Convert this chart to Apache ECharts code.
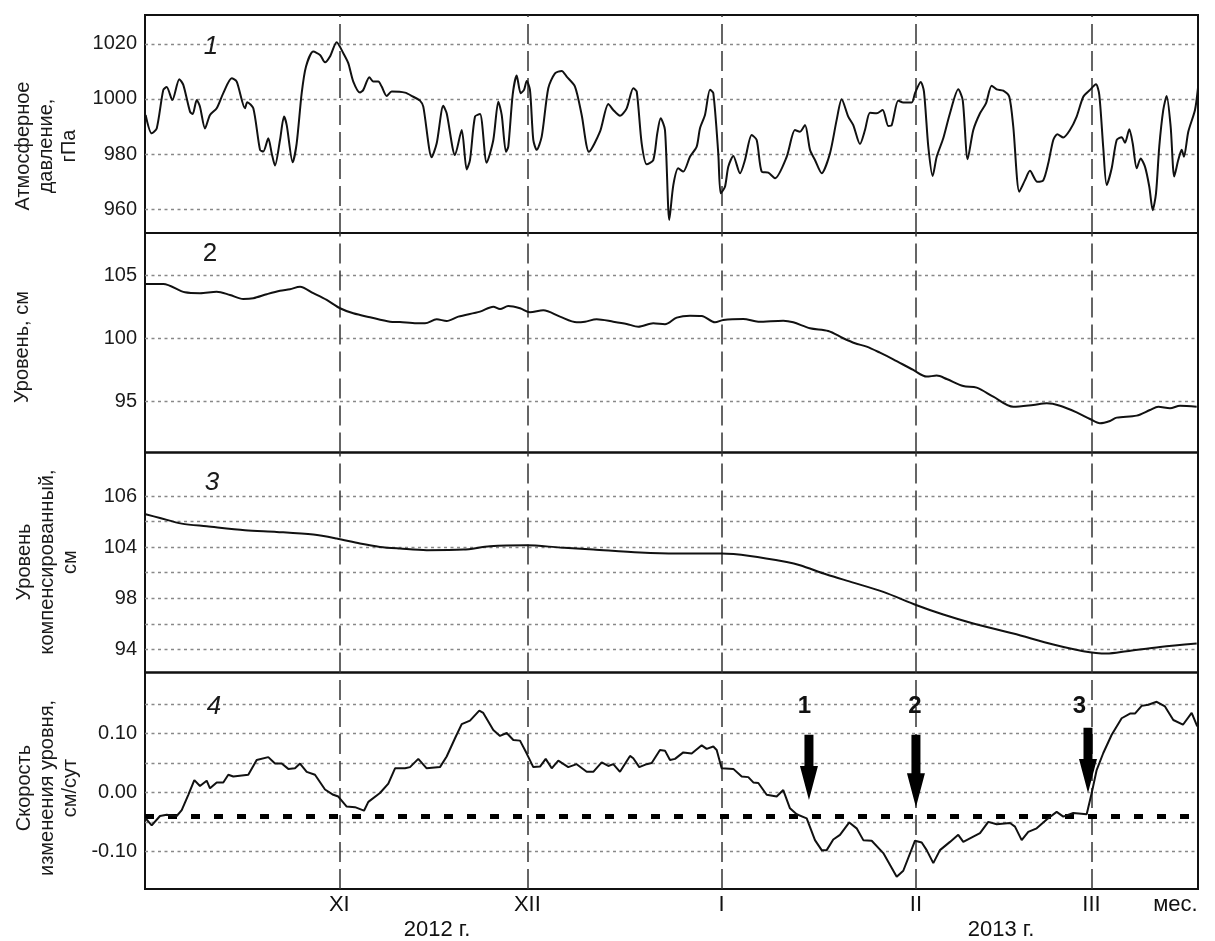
<!DOCTYPE html>
<html><head><meta charset="utf-8">
<script src="https://cdn.jsdelivr.net/npm/echarts@6/dist/echarts.min.js"></script>
<style>html,body{margin:0;padding:0;background:#fff}#c{width:1215px;height:941px}</style>
</head><body><div id="c"></div>
<script>
// x = days since 1 Oct 2012
const monthDays = [31, 61, 92, 123, 151];
const monthLabels = ['XI', 'XII', 'I', 'II', 'III'];
const unitDay = 164.4, unitLabel = 'мес.';
const yearLabels = ['2012 г.', '2013 г.'];

const pressureTicks = [960, 980, 1000, 1020];
const levelTicks = [95, 100, 105];
const compGrid = [94, 96, 98, 100, 102, 104, 106];
const compLabelPos = [94, 98, 102, 106];
const compLabelText = ['94', '98', '104', '106'];
const speedGrid = [-0.10, -0.05, 0, 0.05, 0.10, 0.15];
const speedLabelPos = [-0.10, 0, 0.10];
const threshold = -0.039;

const pressure = [[0.1,994.2],[1.07,987.5],[1.87,989.3],[2.92,1003.3],[3.46,1004.3],[4.36,999.6],[5.47,1007.2],[6.11,1005.1],[7.18,995.4],[7.61,994.5],[8.25,999.6],[8.77,997.2],[9.57,989.3],[10.37,994.2],[11.44,996.6],[12.49,1002.1],[13.83,1007.5],[14.63,1006.3],[15.95,996.6],[16.32,998.8],[17.28,996.6],[18.35,981.5],[18.87,980.9],[19.67,985.7],[20.21,980.3],[20.74,975.8],[21.54,985.1],[22.18,993.6],[22.61,990.5],[23.56,977],[24.2,983.9],[25,1002.1],[25.69,1011.8],[26.85,1017.2],[27.92,1016],[28.72,1013.3],[29.51,1015.4],[30.58,1020.6],[31.64,1016.6],[32.43,1013],[33.23,1006.3],[34.3,1002.3],[34.83,1003.3],[35.79,1007.9],[36.42,1006.3],[37.22,1006.3],[37.76,1004.5],[38.56,1001.1],[39.36,1002.7],[41.48,1002.3],[42.8,1000.8],[43.87,999.4],[44.4,997.2],[45.74,978.8],[46.54,983.9],[47.59,997.5],[48.13,994.8],[49.46,979.6],[50.53,988.7],[51.32,974.4],[51.85,977.8],[52.65,993.6],[53.45,994.5],[54.51,976.8],[55.57,985.1],[56.37,999],[56.91,994.2],[57.59,980.8],[57.96,982.7],[58.66,1001.5],[59.3,1008.5],[59.94,1002.1],[60.47,1003.3],[60.9,1006.5],[61.42,1003.3],[61.95,985.1],[62.49,981.5],[63.29,986.3],[64.34,1003.9],[65.41,1009.3],[66.48,1010.2],[67.28,1008.1],[68.6,1004.5],[69.67,994.2],[70.84,980.8],[72.59,988.1],[73.92,998.2],[74.71,996],[75.78,993.9],[76.85,996.6],[77.9,1003.9],[78.45,1002.7],[79.24,983.9],[80.04,976.3],[81.09,977.8],[81.73,987.5],[82.27,993],[82.96,988.7],[83.65,956],[84.29,968.7],[85.08,974.8],[85.88,973.6],[86.95,979],[88.02,982.7],[88.54,989.3],[89.34,994.2],[90.14,1003.3],[90.67,1002.1],[91.46,980.3],[91.85,965.7],[92.53,968.1],[93.06,975.4],[93.86,979.3],[94.93,973],[95.72,977.8],[96.79,986.9],[97.59,985.1],[98.39,973.6],[99.44,973.2],[100.51,971.2],[102.38,979],[103.7,988.7],[104.5,988.1],[105.3,990.5],[106.1,981.5],[106.89,977.8],[107.96,973],[109.29,980.3],[110.35,992.4],[111.15,999.9],[112.2,993.6],[113,990.5],[114.07,983.6],[114.87,988.7],[115.67,995],[116.73,994.8],[117.69,996],[118.59,990.2],[119.13,990.5],[120.18,999.4],[120.98,998.7],[122.32,998.7],[122.85,1002.1],[123.76,1006.2],[124.28,1002.7],[124.97,982.7],[125.67,972],[126.31,979],[127.36,985.7],[128.43,994.8],[129.75,1003.5],[130.46,999.6],[131.25,978.1],[132.15,988.7],[133.22,994.8],[134.17,998.4],[135.08,1004.8],[135.88,1003.5],[136.93,1003],[137.89,1000.8],[138.53,989.9],[139.49,966.3],[140.4,970.5],[141.19,973.9],[142.36,969.9],[143.32,970.5],[144.11,976.6],[144.91,985.1],[145.55,987.2],[146.51,986],[147.57,988.7],[148.64,993.6],[149.7,1000.8],[150.77,1003.3],[151.72,1005.3],[152.25,1001.5],[152.89,982.1],[153.43,968.7],[154.23,974.8],[155.03,985.1],[155.82,986.1],[156.35,984.1],[157.04,989],[157.58,983.9],[158.22,974.8],[158.85,978.4],[159.54,975.4],[160.23,968.1],[160.77,959.6],[161.3,965.7],[161.82,982.7],[162.46,996],[163,1001.1],[163.64,989.9],[164.21,971.8],[164.85,977.8],[165.4,981.5],[165.76,979],[166.45,988.1],[167.52,996],[168,1004]];

const level = [[0.1,104.34],[2.92,104.34],[6.38,103.67],[8.77,103.6],[11.44,103.72],[13.56,103.46],[15.68,103.14],[17.28,103.2],[19.42,103.52],[21.54,103.8],[23.13,103.92],[24.73,104.12],[26.85,103.6],[28.99,103.06],[31.11,102.4],[33.23,102],[35.9,101.68],[39.09,101.33],[40.68,101.3],[43.35,101.2],[44.67,101.2],[46.54,101.52],[48.13,101.39],[49.98,101.73],[53.45,102.13],[55.57,102.53],[56.64,102.34],[57.96,102.58],[59.83,102.4],[61.42,102.08],[63.55,102.24],[66.21,101.73],[68.87,101.28],[70.2,101.33],[72.06,101.52],[74.71,101.33],[76.85,101.15],[78.7,100.93],[81.09,101.2],[82.96,101.12],[84.83,101.65],[86.95,101.81],[88.82,101.79],[90.94,101.28],[92.26,101.47],[95.45,101.55],[97.85,101.33],[101.83,101.41],[103.43,101.28],[106.1,100.81],[109.01,100.59],[111.4,100.01],[113.27,99.61],[115.14,99.34],[117.26,98.86],[119.38,98.33],[122.57,97.48],[124.71,96.95],[126.31,97.03],[127.9,96.76],[130.55,96.2],[132.69,96.07],[135.34,95.35],[138.53,94.55],[141.72,94.69],[143.86,94.82],[145.98,94.63],[148.64,94.1],[150.77,93.57],[152.36,93.23],[153.96,93.41],[155.03,93.68],[158.22,93.84],[160.34,94.29],[161.67,94.55],[163.53,94.43],[165.13,94.63],[167.79,94.55]];

const compLevel = [[0.1,104.57],[2.39,104.28],[5.86,103.84],[9.84,103.63],[15.95,103.32],[21.01,103.19],[26.85,102.98],[30.58,102.67],[34.3,102.28],[37.49,102.02],[40.68,101.89],[44.94,101.76],[50.78,101.81],[55.04,102.07],[60.9,102.15],[66.21,101.97],[71.52,101.81],[78.97,101.58],[84.83,101.5],[92,101.5],[96.52,101.31],[102.38,100.84],[104.5,100.59],[108.76,99.86],[113,99.23],[117.79,98.5],[123.12,97.46],[127.36,96.73],[132.15,96.03],[138.53,95.25],[144.91,94.39],[149.7,93.87],[153.43,93.69],[156.62,93.87],[161.94,94.2],[167.79,94.47]];

const speed = [[0.1,-0.044],[1.07,-0.056],[2.39,-0.040],[3.46,-0.038],[5.06,-0.040],[5.86,-0.030],[6.91,-0.004],[7.87,0.021],[8.77,0.011],[9.84,0.020],[10.37,0.007],[11.44,0.017],[12.49,0.017],[13.29,0.030],[14.09,0.027],[16.48,0.030],[17.82,0.055],[19.67,0.060],[20.74,0.049],[21.81,0.049],[22.86,0.040],[23.93,0.041],[24.73,0.049],[25.8,0.035],[27.12,0.030],[28.72,0.005],[30.04,-0.004],[30.84,-0.007],[32.18,-0.024],[33.5,-0.025],[34.94,-0.031],[35.63,-0.016],[37.49,-0.001],[38.82,0.015],[39.89,0.041],[41.48,0.041],[42.28,0.043],[43.6,0.057],[44.94,0.041],[47.06,0.043],[48.13,0.061],[49.46,0.092],[50.53,0.116],[51.85,0.122],[53.33,0.139],[53.97,0.135],[55.57,0.106],[56.64,0.096],[57.71,0.101],[58.76,0.089],[59.83,0.088],[60.9,0.066],[61.95,0.043],[63.02,0.044],[63.93,0.057],[64.89,0.041],[65.94,0.054],[67.53,0.043],[68.87,0.048],[70.47,0.035],[71.52,0.035],[72.86,0.051],[73.92,0.045],[74.71,0.048],[75.78,0.035],[77.38,0.062],[77.9,0.058],[78.86,0.043],[80.04,0.048],[80.84,0.050],[82.16,0.072],[82.96,0.071],[83.76,0.055],[84.56,0.057],[85.88,0.068],[87.22,0.066],[88.82,0.080],[89.61,0.074],[90.67,0.078],[91.21,0.072],[92,0.041],[93.86,0.040],[95.2,0.027],[96.25,0.026],[97.05,0.017],[97.85,0.016],[99.19,-0.004],[100.78,-0.007],[101.83,0.004],[102.9,-0.027],[103.97,-0.037],[105.57,-0.044],[106.89,-0.081],[107.96,-0.098],[108.76,-0.098],[109.81,-0.080],[110.88,-0.072],[112.36,-0.051],[113.54,-0.061],[114.6,-0.081],[115.94,-0.082],[117.79,-0.103],[119.93,-0.143],[120.98,-0.133],[122.85,-0.082],[123.92,-0.085],[124.71,-0.098],[125.77,-0.120],[126.83,-0.098],[128.43,-0.084],[129.75,-0.072],[130.55,-0.084],[132.15,-0.075],[133.22,-0.069],[134.54,-0.050],[135.88,-0.054],[138,-0.052],[138.8,-0.058],[139.87,-0.081],[140.92,-0.067],[142.26,-0.061],[143.86,-0.046],[145.45,-0.033],[146.51,-0.041],[148.1,-0.035],[150.24,-0.037],[151.04,-0.001],[151.83,0.038],[152.89,0.067],[154.23,0.098],[155.82,0.126],[157.15,0.134],[157.94,0.134],[159.01,0.147],[160.07,0.149],[161.41,0.154],[162.73,0.146],[164.06,0.123],[165.6,0.115],[166.99,0.135],[167.88,0.112]];

const arrowDays = [105.93, 123.0, 150.45];
const arrowTop = [0.098, 0.098, 0.110];
const arrowTip = [-0.013, -0.025, -0.001];
const arrowLabelDays = [105.2, 122.85, 149.1];
const arrowLabelVal = 0.147;
const arrowLabels = ['1', '2', '3'];

const panelNumbers = ['1', '2', '3', '4'];
const axisTitles = ['Атмосферное\nдавление,\nгПа', 'Уровень, см', 'Уровень\nкомпенсированный,\nсм', 'Скорость\nизменения уровня,\nсм/сут'];

const FONT = '"Liberation Sans", Arial, sans-serif';
const chart = echarts.init(document.getElementById('c'));

const gridBoxes = [
  {top: 15, height: 218},
  {top: 233, height: 219.5},
  {top: 452.5, height: 220},
  {top: 672.5, height: 216.5}
];
const grids = gridBoxes.map(g => ({left: 145, width: 1053, top: g.top, height: g.height, show: true, borderColor: '#111', borderWidth: 2, backgroundColor: 'rgba(0,0,0,0)'}));

const xLabelMap = {};
monthDays.forEach((d, i) => xLabelMap[d] = monthLabels[i]);
xLabelMap[unitDay] = unitLabel;

const xAxes = [0, 1, 2, 3].map(i => ({
  gridIndex: i, type: 'value', min: 0, max: 168,
  axisLine: {show: false}, axisTick: {show: false}, splitLine: {show: false},
  axisLabel: i === 3 ? {show: true, customValues: monthDays.concat([unitDay]), formatter: v => xLabelMap[v] || '', fontSize: 22, fontFamily: FONT, color: '#111', margin: 5, hideOverlap: false} : {show: false}
}));

const splitStyle = {show: true, lineStyle: {color: '#888', type: [3, 3.5], width: 1.4}};
const ylab = (extra) => Object.assign({fontSize: 20, fontFamily: FONT, color: '#1a1a1a', margin: 8, showMinLabel: true, showMaxLabel: true}, extra);

const compMap = {};
compLabelPos.forEach((v, i) => compMap[v] = compLabelText[i]);

const yAxes = [
  {gridIndex: 0, type: 'value', min: 951.3, max: 1030.5, axisLine: {show: false},
   axisTick: {show: false, customValues: pressureTicks}, splitLine: splitStyle,
   axisLabel: ylab({customValues: pressureTicks, formatter: v => String(v)})},
  {gridIndex: 1, type: 'value', min: 90.9, max: 108.4, axisLine: {show: false},
   axisTick: {show: false, customValues: levelTicks}, splitLine: splitStyle,
   axisLabel: ylab({customValues: levelTicks, formatter: v => String(v)})},
  {gridIndex: 2, type: 'value', min: 92.2, max: 109.4, axisLine: {show: false},
   axisTick: {show: false, customValues: compGrid}, splitLine: splitStyle,
   axisLabel: ylab({customValues: compLabelPos, formatter: v => compMap[v] || ''})},
  {gridIndex: 3, type: 'value', min: -0.164, max: 0.2037, axisLine: {show: false},
   axisTick: {show: false, customValues: speedGrid}, splitLine: splitStyle,
   axisLabel: ylab({customValues: speedLabelPos, formatter: v => v.toFixed(2)})}
];

const monthLine = monthDays.map(d => ({xAxis: d}));
const mlBase = {silent: true, symbol: 'none', label: {show: false}, animation: false,
  lineStyle: {color: '#333', type: [20, 7], width: 1.5}, emphasis: {disabled: true}};

const lineSeries = (idx, data, smooth) => ({
  type: 'line', xAxisIndex: idx, yAxisIndex: idx, data: data, showSymbol: false, symbol: 'none',
  smooth: smooth, lineStyle: {color: '#111', width: 2}, z: 5,
  markLine: Object.assign({}, mlBase, {data: idx === 3 ? monthLine.concat([{yAxis: threshold, lineStyle: {color: '#000', type: [9, 14], width: 5}}]) : monthLine})
});

const arrowData = arrowDays.map((d, i) => [d, arrowTop[i], arrowTip[i], arrowLabelDays[i], arrowLabelVal]);

const graphics = [];
const titleCenters = [[46, 146], [22, 347], [47, 562], [47, 788]];
axisTitles.forEach((t, i) => graphics.push({type: 'text', x: titleCenters[i][0], y: titleCenters[i][1], rotation: Math.PI / 2,
  style: {text: t, font: '20px ' + FONT, fill: '#1a1a1a', align: 'center', verticalAlign: 'middle', lineHeight: 23}}));
const numPos = [[211, 47], [210, 254], [212, 483], [214, 707]];
panelNumbers.forEach((t, i) => graphics.push({type: 'text', x: numPos[i][0], y: numPos[i][1], z: 10,
  style: {text: t, font: (i === 1 ? '' : 'italic ') + '26px ' + FONT, fill: '#1a1a1a', align: 'center', verticalAlign: 'middle'}}));
const yearPos = [[437, 930], [1001, 930]];
yearLabels.forEach((t, i) => graphics.push({type: 'text', x: yearPos[i][0], y: yearPos[i][1],
  style: {text: t, font: '22px ' + FONT, fill: '#111', align: 'center', verticalAlign: 'middle'}}));

chart.setOption({
  animation: false,
  backgroundColor: '#fff',
  grid: grids,
  xAxis: xAxes,
  yAxis: yAxes,
  graphic: graphics,
  series: [
    lineSeries(0, pressure, 0.25),
    lineSeries(1, level, 0.3),
    lineSeries(2, compLevel, 0.3),
    lineSeries(3, speed, false),
    {
      type: 'custom', xAxisIndex: 3, yAxisIndex: 3, data: arrowData, z: 8, silent: true,
      renderItem: function (params, api) {
        const top = api.coord([api.value(0), api.value(1)]);
        const tip = api.coord([api.value(0), api.value(2)]);
        const lab = api.coord([api.value(3), api.value(4)]);
        const sw = 4.5, hw = 9, hl = 34, x = top[0];
        const pts = [[x - sw, top[1]], [x + sw, top[1]], [x + sw, tip[1] - hl], [x + hw, tip[1] - hl], [x, tip[1]], [x - hw, tip[1] - hl], [x - sw, tip[1] - hl]];
        return {type: 'group', children: [
          {type: 'polygon', shape: {points: pts}, style: {fill: '#000'}},
          {type: 'text', x: lab[0], y: lab[1], style: {text: arrowLabels[params.dataIndex], font: 'bold 24px ' + FONT, fill: '#111', align: 'center', verticalAlign: 'middle'}}
        ]};
      }
    }
  ]
});
</script>
</body></html>
